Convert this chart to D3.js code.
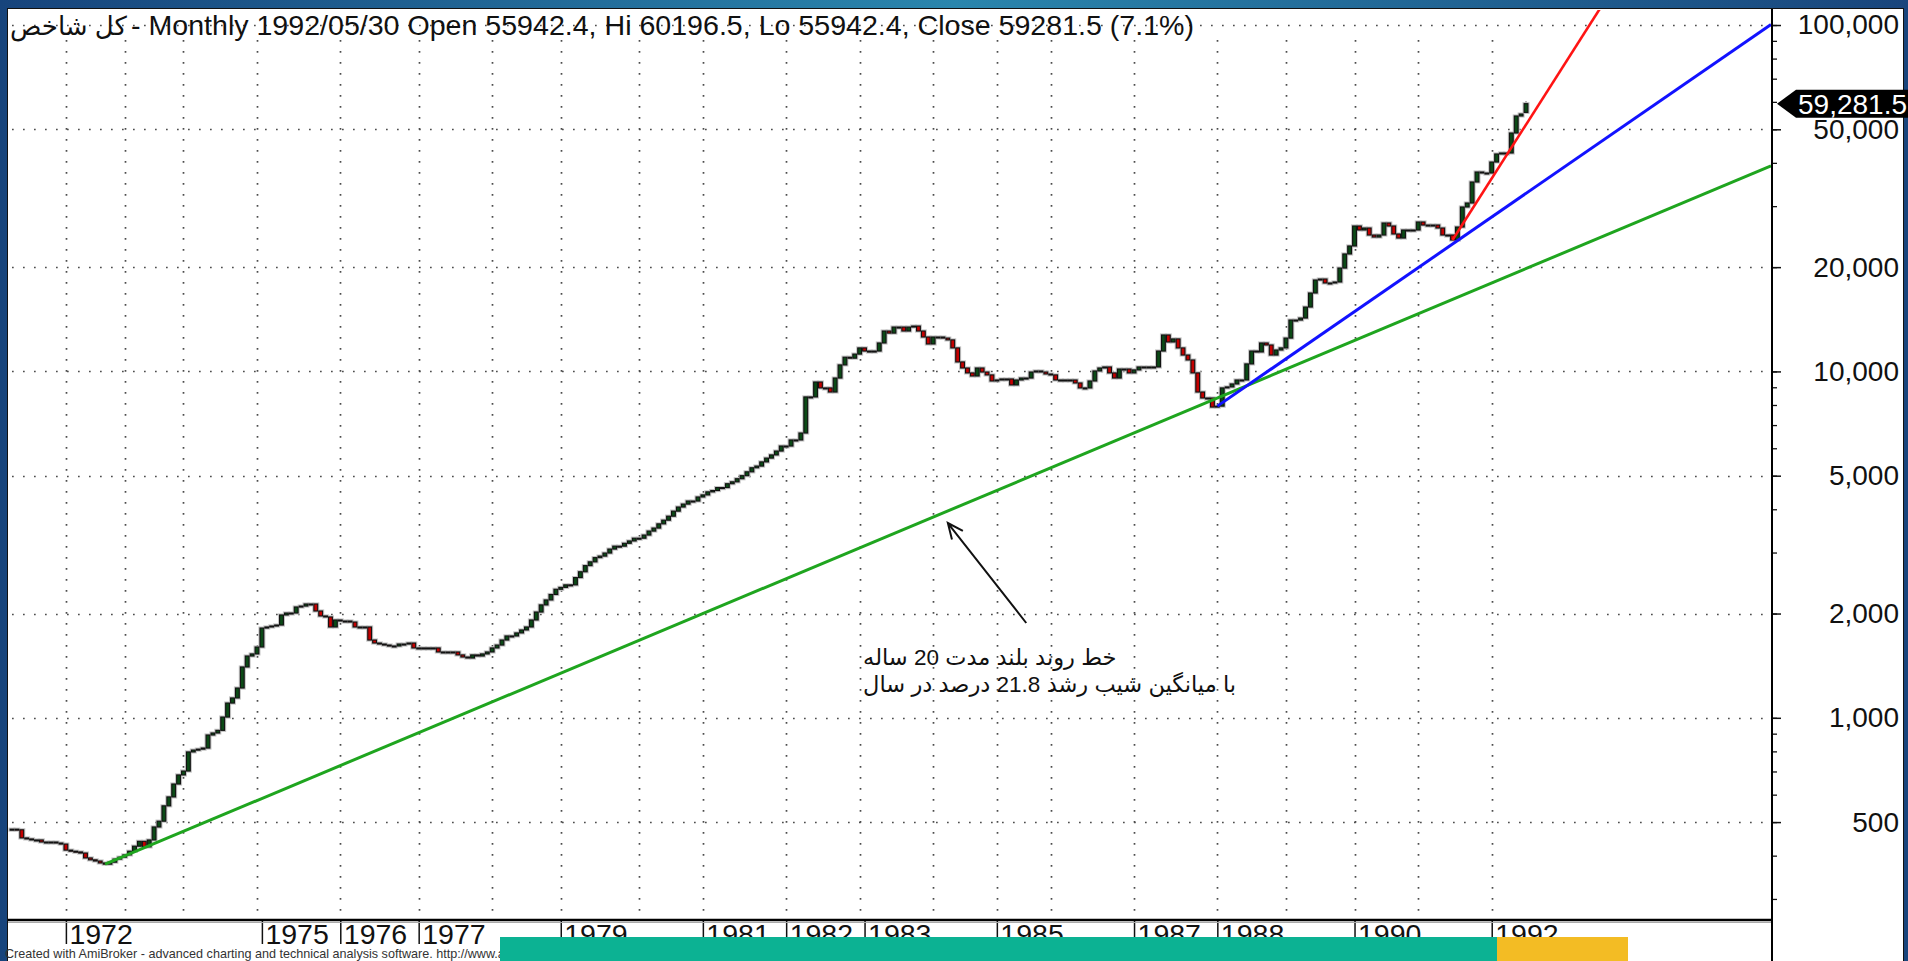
<!DOCTYPE html>
<html>
<head>
<meta charset="utf-8">
<script src="https://cdn.jsdelivr.net/npm/d3@7"></script>
<style>
html, body { margin: 0; padding: 0; background: #1b4a82; overflow: hidden; }
svg { display: block; }
text { font-family: "Liberation Sans", Arial, "DejaVu Sans", sans-serif; }
</style>
</head>
<body>
<svg id="chart" width="1908" height="961"></svg>
<script>
// monthly closes, one per bar (bar 0 = first bar on the left)
const closes = [
  477, 475, 450, 447, 444, 444, 438, 438, 438, 435,
  432, 415, 412, 410, 407, 394, 389, 386, 381, 378,
  383, 391, 396, 402, 412, 426, 440, 424, 444, 484,
  503, 557, 591, 644, 684, 702, 797, 807, 812, 818,
  892, 904, 920, 1005, 1103, 1141, 1219, 1402, 1508, 1529,
  1601, 1816, 1829, 1841, 1853, 1981, 2007, 2007, 2089, 2102,
  2131, 2131, 2034, 1968, 1955, 1829, 1916, 1903, 1903, 1890,
  1829, 1829, 1829, 1677, 1644, 1633, 1622, 1612, 1612, 1633,
  1633, 1644, 1591, 1591, 1591, 1591, 1591, 1549, 1549, 1539,
  1549, 1519, 1498, 1488, 1519, 1508, 1529, 1549, 1591, 1622,
  1677, 1723, 1723, 1758, 1793, 1829, 1916, 2020, 2118, 2189,
  2270, 2350, 2380, 2420, 2420, 2540, 2640, 2750, 2820, 2900,
  2930, 2990, 3070, 3130, 3130, 3190, 3240, 3300, 3300, 3370,
  3460, 3530, 3630, 3720, 3820, 3950, 4060, 4140, 4225, 4225,
  4340, 4400, 4490, 4530, 4620, 4620, 4740, 4800, 4900, 5000,
  5130, 5270, 5330, 5480, 5620, 5740, 5890, 6090, 6090, 6340,
  6340, 6640, 8440, 8440, 9320, 8960, 8960, 8720, 9570, 10440,
  10990, 10920, 11220, 11690, 11450, 11450, 11450, 12080, 13080, 12900,
  13430, 13430, 13080, 13430, 13520, 13080, 12570, 12000, 12570, 12570,
  12480, 12330, 11690, 10650, 10230, 9900, 9700, 10230, 9960, 9770,
  9383, 9446, 9510, 9510, 9140, 9446, 9570, 9570, 9960, 10030,
  9960, 9830, 9770, 9446, 9446, 9446, 9446, 9260, 8960, 8960,
  9383, 10030, 10230, 10300, 9900, 9570, 10160, 10160, 9900, 10100,
  10300, 10300, 10300, 10300, 11450, 12740, 12160, 12410, 11690, 11150,
  10790, 9900, 8720, 8380, 8380, 7890, 7940, 8960, 9020, 9200,
  9446, 9446, 10510, 11450, 11380, 12080, 11920, 11150, 11530, 11690,
  12480, 14070, 14070, 14260, 15340, 16840, 18360, 18480, 18000, 18000,
  18120, 19880, 21830, 23020, 26290, 25600, 25940, 24760, 24430, 24760,
  26820, 26290, 24930, 24270, 25600, 25600, 25600, 27000, 26460, 26460,
  26460, 25940, 24760, 24760, 23950, 26110, 29830, 30630, 35220, 37640,
  37390, 37390, 40220, 42430, 42710, 42710, 48780, 54620, 55351, 59281.5
]
const lastBar = { open: 55942.4, high: 60196.5, low: 55942.4, close: 59281.5 }
const totalBars = 360 // includes the blank bars on the right

const yearGridBars = [11, 23, 35, 50, 67, 83, 98, 112, 128, 141, 158, 173, 188, 201, 212, 229, 246, 260, 274, 287, 302]
const yearLabels = ["1972", "1975", "1976", "1977", "1979", "1981", "1982", "1983", "1985", "1987", "1988", "1990", "1992"]
const yearLabelBars = [11, 51, 67, 83, 112, 141, 158, 174, 201, 229, 246, 274, 302]
const yLabelValues = [500, 1000, 2000, 5000, 10000, 20000, 50000, 100000]

// trend lines: [bar, value] end points
const greenTrend = [[19, 378], [359, 39200]]
const blueTrend = [[246, 7940], [359, 100300]]
const redTrend = [[294, 23950], [324, 111000]]

const titleName = "كل شاخص"
const titleRest = "- Monthly 1992/05/30 Open 55942.4, Hi 60196.5, Lo 55942.4, Close 59281.5 (7.1%)"
const noteLines = ["خط روند بلند مدت 20 ساله", "با میانگین شیب رشد 21.8 درصد در سال"]
const noteAnchor = { bar: 173.7, value: 1420, value2: 1187 }
const arrowTip = { bar: 191, value: 3650 }
const arrowTail = { bar: 207, value: 1878 }
const footer = "Created with AmiBroker - advanced charting and technical analysis software. http://www.amibroker.com"

const W = 1908, H = 961
const plot = { left: 8, top: 10, right: 1772, bottom: 920 }

const x = d3.scaleLinear().domain([0, totalBars - 1]).range([12, 1771])
const y = d3.scaleLog().domain([260.8, 110500]).range([plot.bottom, plot.top])

const svg = d3.select("#chart")
const defs = svg.append("defs")

const grad = defs.append("linearGradient").attr("id", "frame")
    .attr("x1", 0).attr("x2", 1).attr("y1", 0).attr("y2", 0)
grad.append("stop").attr("offset", "0%").attr("stop-color", "#17447c")
grad.append("stop").attr("offset", "50%").attr("stop-color", "#2a86ad")
grad.append("stop").attr("offset", "100%").attr("stop-color", "#19457c")

defs.append("clipPath").attr("id", "plotClip")
    .append("rect")
    .attr("x", plot.left).attr("y", plot.top)
    .attr("width", plot.right - plot.left).attr("height", plot.bottom - plot.top)

svg.append("rect").attr("width", W).attr("height", H).attr("fill", "url(#frame)")
svg.append("rect")
    .attr("x", 7.5).attr("y", 8.5)
    .attr("width", 1896).attr("height", H)
    .attr("fill", "#fff").attr("stroke", "#111")

// dotted grid
const grid = svg.append("g")
    .attr("stroke", "#4d4d4d")
    .attr("stroke-width", 1.7)
    .attr("stroke-dasharray", "1.7 9.3")

grid.selectAll("line.h")
    .data(yLabelValues)
    .join("line")
    .attr("class", "h")
    .attr("x1", plot.left + 4).attr("x2", plot.right)
    .attr("y1", d => Math.round(y(d)) + 0.5)
    .attr("y2", d => Math.round(y(d)) + 0.5)

grid.selectAll("line.v")
    .data(yearGridBars)
    .join("line")
    .attr("class", "v")
    .attr("x1", d => Math.round(x(d)) + 0.5)
    .attr("x2", d => Math.round(x(d)) + 0.5)
    .attr("y1", plot.top + 30).attr("y2", plot.bottom - 2)

// candles, open = previous close
const candles = closes.map((c, i) => ({
    i: i,
    c: c,
    o: i === closes.length - 1 ? lastBar.open : closes[Math.max(0, i - 1)]
}))

const cg = svg.append("g")

cg.append("line")
    .attr("x1", x(closes.length - 1)).attr("x2", x(closes.length - 1))
    .attr("y1", y(lastBar.high)).attr("y2", y(lastBar.low))
    .attr("stroke", "#111").attr("stroke-width", 1.2)

const bodyTop = d => Math.min(y(d.o), y(d.c))
const bodyH = d => Math.max(1, Math.abs(y(d.o) - y(d.c)))

cg.selectAll("rect.halo")
    .data(candles)
    .join("rect")
    .attr("class", "halo")
    .attr("x", d => x(d.i) - 1.9)
    .attr("y", bodyTop)
    .attr("width", 3.8)
    .attr("height", bodyH)
    .attr("fill", "none")
    .attr("stroke", "#c4c4c4")
    .attr("stroke-width", 3.2)

cg.selectAll("rect.body")
    .data(candles)
    .join("rect")
    .attr("class", "body")
    .attr("x", d => x(d.i) - 1.9)
    .attr("y", bodyTop)
    .attr("width", 3.8)
    .attr("height", bodyH)
    .attr("fill", d => d.c > d.o ? "#0b4a16" : d.c < d.o ? "#c40000" : "#111")
    .attr("stroke", "#111")
    .attr("stroke-width", 1.1)

// trend lines
const trendLine = d3.line().x(d => x(d[0])).y(d => y(d[1]))
const tg = svg.append("g").attr("clip-path", "url(#plotClip)").attr("fill", "none")
tg.append("path").attr("d", trendLine(greenTrend)).attr("stroke", "#1fa51f").attr("stroke-width", 3)
tg.append("path").attr("d", trendLine(blueTrend)).attr("stroke", "#1212ff").attr("stroke-width", 3)
tg.append("path").attr("d", trendLine(redTrend)).attr("stroke", "#ff1414").attr("stroke-width", 2.6)

// annotation arrow + text
const tip = [x(arrowTip.bar), y(arrowTip.value)]
const tail = [x(arrowTail.bar), y(arrowTail.value)]
const ang = Math.atan2(tail[1] - tip[1], tail[0] - tip[0])
const wing = a => [tip[0] + 17 * Math.cos(ang + a), tip[1] + 17 * Math.sin(ang + a)]
svg.append("path")
    .attr("d", `M${tail}L${tip}M${wing(0.42)}L${tip}L${wing(-0.42)}`)
    .attr("fill", "none").attr("stroke", "#111").attr("stroke-width", 2)

const noteX = x(noteAnchor.bar)
const note = svg.append("g")
    .attr("font-family", "DejaVu Sans, sans-serif")
    .attr("font-size", 22.5)
    .attr("fill", "#111")
note.append("text")
    .attr("x", noteX).attr("y", y(noteAnchor.value))
    .text(noteLines[0])
note.append("text")
    .attr("x", noteX).attr("y", y(noteAnchor.value2))
    .text(noteLines[1])

// y axis (right)
svg.append("g")
    .attr("transform", `translate(${plot.right},0)`)
    .call(d3.axisRight(y).tickValues(y.ticks().filter(v => y(v) > plot.top)).tickSize(5).tickFormat(""))
    .call(g => g.select(".domain").remove())
    .call(g => g.selectAll("line").attr("stroke", "#111").attr("stroke-width", 1.3))

const yAxis = svg.append("g")
    .attr("transform", `translate(${plot.right},0)`)
    .call(d3.axisRight(y).tickValues(yLabelValues).tickSize(9).tickFormat(d3.format(",")))
    .call(g => g.select(".domain").remove())
yAxis.attr("font-family", "Liberation Sans, Arial, sans-serif").attr("font-size", 28)
yAxis.selectAll("line").attr("stroke", "#111").attr("stroke-width", 1.5)
yAxis.selectAll("text").attr("x", 127).attr("text-anchor", "end").attr("fill", "#111")

// last value marker
const yc = y(lastBar.close)
svg.append("path")
    .attr("d", `M${plot.right + 5},${yc}L${plot.right + 24},${yc - 14}L${W},${yc - 14}L${W},${yc + 14}L${plot.right + 24},${yc + 14}Z`)
    .attr("fill", "#000")
svg.append("text")
    .attr("x", plot.right + 26).attr("y", yc).attr("dy", "0.36em")
    .attr("font-size", 28).attr("fill", "#fff")
    .text(d3.format(",.1f")(lastBar.close))

// x axis
const xAxis = svg.append("g")
    .attr("transform", `translate(0,${plot.bottom})`)
    .call(d3.axisBottom(x).tickValues(yearLabelBars).tickSize(24).tickFormat((d, i) => yearLabels[i]))
    .call(g => g.select(".domain").remove())
xAxis.attr("font-family", "Liberation Sans, Arial, sans-serif").attr("font-size", 28.5)
xAxis.selectAll("line").attr("stroke", "#111").attr("stroke-width", 1.5)
xAxis.selectAll("text").attr("x", 3).attr("y", 4).attr("dy", "0.71em").attr("text-anchor", "start").attr("fill", "#111")

// axis frame lines
svg.append("line")
    .attr("x1", plot.left).attr("x2", plot.right + 1)
    .attr("y1", plot.bottom + 2.5).attr("y2", plot.bottom + 2.5)
    .attr("stroke", "#aaa").attr("stroke-width", 1)
svg.append("line")
    .attr("x1", plot.left).attr("x2", plot.right + 1)
    .attr("y1", plot.bottom).attr("y2", plot.bottom)
    .attr("stroke", "#000").attr("stroke-width", 2.5)
svg.append("line")
    .attr("x1", plot.right).attr("x2", plot.right)
    .attr("y1", plot.top - 1).attr("y2", H)
    .attr("stroke", "#000").attr("stroke-width", 2)

// title
svg.append("text")
    .attr("x", 10).attr("y", 35)
    .attr("font-family", "DejaVu Sans, sans-serif").attr("font-size", 26)
    .attr("fill", "#111")
    .text(titleName)
svg.append("text")
    .attr("x", 131).attr("y", 35)
    .attr("font-size", 28)
    .attr("textLength", 1063).attr("lengthAdjust", "spacingAndGlyphs")
    .attr("fill", "#111")
    .text(titleRest)

// footer and the overlapping coloured strips
svg.append("text")
    .attr("x", 5).attr("y", 957.5)
    .attr("font-size", 12.6).attr("fill", "#333")
    .text(footer)
svg.append("rect").attr("x", 500).attr("y", 937).attr("width", 997).attr("height", 24).attr("fill", "#0cb293")
svg.append("rect").attr("x", 1497).attr("y", 937).attr("width", 131).attr("height", 24).attr("fill", "#f3bc24")
</script>
</body>
</html>
